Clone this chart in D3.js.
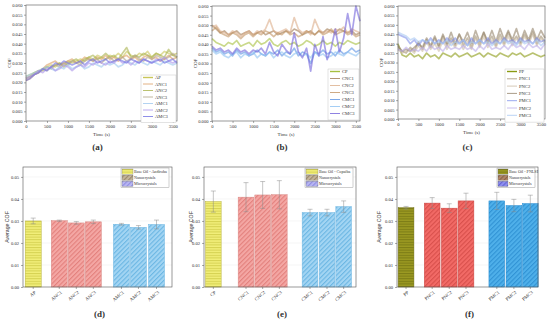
<!DOCTYPE html>
<html>
<head>
<meta charset="utf-8">
<script src="https://cdn.jsdelivr.net/npm/d3@7"></script>
<style>
  body { margin: 0; background: #fff; }
  text { font-family: "Liberation Serif", "DejaVu Serif", serif; fill: #333; }
</style>
</head>
<body>
<script>
// ---- time series data (COF read every 100 s) ----
var timeS = d3.range(0, 3601, 100);

var aNames = ["AP", "ANC1", "ANC2", "ANC3", "AMC1", "AMC2", "AMC3"];
var aAP   = [0.023,0.024,0.025,0.026,0.027,0.028,0.029,0.028,0.030,0.029,0.031,0.030,0.031,0.032,0.031,0.033,0.032,0.034,0.033,0.032,0.034,0.033,0.035,0.033,0.036,0.034,0.033,0.035,0.034,0.036,0.033,0.035,0.034,0.036,0.035,0.034,0.035];
var aANC1 = [0.021,0.022,0.024,0.025,0.027,0.029,0.030,0.031,0.029,0.030,0.031,0.032,0.030,0.031,0.033,0.032,0.031,0.033,0.032,0.034,0.032,0.033,0.031,0.033,0.034,0.032,0.033,0.031,0.033,0.034,0.032,0.033,0.031,0.032,0.034,0.032,0.033];
var aANC2 = [0.022,0.023,0.025,0.026,0.026,0.028,0.027,0.029,0.030,0.028,0.030,0.031,0.032,0.030,0.032,0.033,0.034,0.032,0.033,0.035,0.033,0.034,0.032,0.035,0.038,0.033,0.034,0.033,0.035,0.034,0.033,0.035,0.034,0.033,0.037,0.034,0.033];
var aANC3 = [0.022,0.023,0.024,0.025,0.027,0.026,0.028,0.029,0.028,0.030,0.029,0.031,0.030,0.029,0.031,0.032,0.031,0.032,0.030,0.032,0.033,0.031,0.032,0.033,0.031,0.032,0.034,0.032,0.031,0.033,0.032,0.034,0.033,0.032,0.033,0.035,0.033];
var aAMC1 = [0.023,0.024,0.025,0.026,0.027,0.028,0.027,0.026,0.028,0.027,0.029,0.027,0.028,0.029,0.027,0.028,0.030,0.029,0.028,0.030,0.029,0.030,0.028,0.029,0.031,0.030,0.029,0.031,0.030,0.029,0.031,0.030,0.029,0.031,0.030,0.029,0.030];
var aAMC2 = [0.022,0.023,0.024,0.026,0.025,0.027,0.028,0.026,0.027,0.029,0.028,0.026,0.028,0.029,0.028,0.030,0.029,0.031,0.030,0.029,0.031,0.030,0.032,0.030,0.031,0.029,0.031,0.030,0.032,0.031,0.030,0.032,0.031,0.033,0.031,0.030,0.031];
var aAMC3 = [0.021,0.022,0.024,0.025,0.027,0.026,0.028,0.030,0.029,0.031,0.030,0.029,0.030,0.031,0.029,0.031,0.032,0.030,0.031,0.032,0.030,0.031,0.032,0.031,0.030,0.032,0.031,0.030,0.032,0.031,0.030,0.031,0.032,0.030,0.031,0.032,0.030];

var bNames = ["CP", "CNC1", "CNC2", "CNC3", "CMC1", "CMC2", "CMC3"];
var bCP   = [0.043,0.041,0.040,0.039,0.041,0.040,0.042,0.039,0.040,0.041,0.039,0.042,0.040,0.041,0.043,0.040,0.039,0.041,0.042,0.040,0.041,0.039,0.040,0.042,0.041,0.039,0.040,0.042,0.040,0.041,0.039,0.041,0.040,0.042,0.041,0.040,0.041];
var bCNC1 = [0.050,0.048,0.046,0.047,0.045,0.046,0.047,0.045,0.046,0.047,0.045,0.046,0.047,0.045,0.046,0.047,0.045,0.046,0.047,0.046,0.048,0.047,0.045,0.046,0.047,0.045,0.047,0.046,0.048,0.047,0.046,0.048,0.047,0.046,0.047,0.045,0.046];
var bCNC2 = [0.049,0.050,0.047,0.046,0.045,0.047,0.046,0.044,0.046,0.047,0.045,0.047,0.046,0.048,0.053,0.047,0.046,0.047,0.048,0.046,0.054,0.048,0.046,0.047,0.045,0.053,0.048,0.046,0.047,0.046,0.048,0.047,0.049,0.046,0.048,0.047,0.046];
var bCNC3 = [0.047,0.049,0.046,0.045,0.044,0.046,0.045,0.043,0.045,0.046,0.044,0.046,0.045,0.047,0.046,0.044,0.046,0.045,0.047,0.045,0.046,0.044,0.045,0.047,0.046,0.045,0.047,0.045,0.046,0.048,0.045,0.046,0.047,0.045,0.046,0.044,0.045];
var bCMC1 = [0.038,0.036,0.037,0.035,0.036,0.034,0.037,0.035,0.036,0.034,0.035,0.037,0.035,0.034,0.036,0.035,0.037,0.034,0.036,0.035,0.038,0.034,0.036,0.035,0.030,0.036,0.035,0.037,0.035,0.036,0.034,0.037,0.035,0.036,0.038,0.036,0.037];
var bCMC2 = [0.037,0.035,0.036,0.034,0.033,0.035,0.036,0.033,0.035,0.034,0.036,0.033,0.035,0.034,0.036,0.033,0.035,0.036,0.034,0.033,0.035,0.036,0.034,0.035,0.033,0.036,0.034,0.035,0.033,0.034,0.036,0.035,0.034,0.036,0.035,0.034,0.036];
var bCMC3 = [0.039,0.037,0.038,0.036,0.037,0.035,0.038,0.036,0.037,0.035,0.037,0.036,0.038,0.035,0.041,0.036,0.034,0.040,0.037,0.035,0.046,0.036,0.033,0.038,0.026,0.040,0.034,0.044,0.032,0.038,0.048,0.036,0.043,0.056,0.045,0.060,0.052];

var cNames = ["PP", "PNC1", "PNC2", "PNC3", "PMC1", "PMC2", "PMC3"];
var cPP   = [0.040,0.034,0.033,0.035,0.033,0.034,0.032,0.035,0.033,0.034,0.032,0.035,0.034,0.033,0.035,0.033,0.034,0.035,0.033,0.034,0.035,0.033,0.035,0.034,0.033,0.035,0.034,0.033,0.035,0.034,0.035,0.033,0.034,0.035,0.034,0.033,0.034];
var cPNC1 = [0.038,0.036,0.035,0.038,0.036,0.041,0.037,0.042,0.038,0.043,0.038,0.044,0.039,0.043,0.039,0.045,0.039,0.043,0.038,0.044,0.039,0.046,0.040,0.044,0.039,0.045,0.040,0.046,0.041,0.044,0.040,0.045,0.041,0.046,0.040,0.044,0.041];
var cPNC2 = [0.037,0.035,0.036,0.037,0.035,0.039,0.036,0.041,0.037,0.040,0.036,0.042,0.037,0.041,0.038,0.042,0.037,0.041,0.037,0.043,0.038,0.044,0.038,0.042,0.038,0.043,0.039,0.044,0.039,0.043,0.039,0.044,0.040,0.045,0.039,0.043,0.040];
var cPNC3 = [0.039,0.036,0.037,0.036,0.038,0.040,0.038,0.043,0.039,0.044,0.039,0.045,0.040,0.046,0.040,0.045,0.041,0.046,0.040,0.047,0.041,0.046,0.041,0.047,0.041,0.048,0.042,0.047,0.042,0.048,0.041,0.047,0.042,0.048,0.042,0.047,0.043];
var cPMC1 = [0.045,0.044,0.043,0.040,0.042,0.039,0.042,0.040,0.043,0.040,0.042,0.040,0.043,0.041,0.043,0.040,0.042,0.039,0.043,0.040,0.042,0.040,0.043,0.040,0.042,0.040,0.043,0.041,0.042,0.040,0.043,0.041,0.042,0.040,0.043,0.041,0.042];
var cPMC2 = [0.037,0.036,0.038,0.036,0.037,0.036,0.038,0.036,0.039,0.037,0.038,0.036,0.039,0.037,0.038,0.037,0.039,0.037,0.038,0.036,0.039,0.037,0.040,0.037,0.038,0.037,0.039,0.037,0.040,0.038,0.039,0.037,0.040,0.038,0.039,0.037,0.040];
var cPMC3 = [0.046,0.045,0.044,0.042,0.043,0.041,0.042,0.041,0.042,0.040,0.041,0.040,0.042,0.039,0.041,0.040,0.042,0.039,0.041,0.040,0.042,0.040,0.041,0.039,0.041,0.040,0.042,0.040,0.041,0.039,0.042,0.040,0.041,0.040,0.042,0.039,0.041];

// ---- average COF bars ----
var dNames = ["AP", "ANC1", "ANC2", "ANC3", "AMC1", "AMC2", "AMC3"];
var dMeans = [0.0300, 0.0301, 0.0291, 0.0296, 0.0285, 0.0271, 0.0284];
var dErrs  = [0.0013, 0.0003, 0.0006, 0.0008, 0.0004, 0.0008, 0.0020];
var eNames = ["CP", "CNC1", "CNC2", "CNC3", "CMC1", "CMC2", "CMC3"];
var eMeans = [0.0388, 0.0408, 0.0418, 0.0419, 0.0338, 0.0338, 0.0365];
var eErrs  = [0.0048, 0.0066, 0.0061, 0.0064, 0.0015, 0.0015, 0.0026];
var fNames = ["PP", "PNC1", "PNC2", "PNC3", "PMC1", "PMC2", "PMC3"];
var fMeans = [0.0360, 0.0381, 0.0358, 0.0391, 0.0391, 0.0370, 0.0379];
var fErrs  = [0.0006, 0.0025, 0.0020, 0.0035, 0.0039, 0.0028, 0.0038];

var legendGroups = ["Nanocrystals", "Microcrystals"];

var svg = d3.select("body").append("svg")
    .attr("width", 550)
    .attr("height", 321);
var defs = svg.append("defs");

// hatch patterns
function pattern(id, bg, fg, kind) {
    var p = defs.append("pattern")
        .attr("id", id)
        .attr("patternUnits", "userSpaceOnUse")
        .attr("width", kind == "h" ? 4 : 3.2)
        .attr("height", kind == "h" ? 2.6 : 3.2);
    if (kind == "d") p.attr("patternTransform", "rotate(45)");
    p.append("rect").attr("width", 4).attr("height", 4).attr("fill", bg);
    if (kind == "h") {
        p.append("line").attr("x1", 0).attr("x2", 4).attr("y1", 0.6).attr("y2", 0.6)
            .attr("stroke", fg).attr("stroke-width", 0.8);
    } else {
        p.append("line").attr("x1", 0.6).attr("x2", 0.6).attr("y1", 0).attr("y2", 4)
            .attr("stroke", fg).attr("stroke-width", 0.9);
    }
}
pattern("baseY", "#f2ef7a", "#c9c540", "h");
pattern("baseO", "#9c9a22", "#6f6d10", "h");
pattern("nanoL", "#f4a7a4", "#e07874", "d");
pattern("microL", "#a3d5f3", "#5fb0e0", "d");
pattern("nanoS", "#f26a66", "#d24a46", "d");
pattern("microS", "#4fb0ea", "#2a8cd0", "d");
pattern("legNano", "#c4b49a", "#8f7d62", "d");
pattern("legMicro", "#b8b6f2", "#8784de", "d");
pattern("legNanoS", "#b08468", "#7d5a40", "d");
pattern("legMicroS", "#8e8ef0", "#5c5ccc", "d");

function caption(x, y, t) {
    svg.append("text").attr("x", x).attr("y", y).attr("text-anchor", "middle")
        .attr("font-size", 9).attr("font-weight", "bold").attr("fill", "#111").text(t);
}

/*          Line panels          */
function linePanel(cfg) {
    var x = d3.scaleLinear().domain([0, 3600]).range([cfg.left, cfg.right]);
    var y = d3.scaleLinear().domain([0, 0.06]).range([cfg.bottom, cfg.top]);
    var g = svg.append("g");

    var line = d3.line()
        .x(function (d, i) { return x(timeS[i]); })
        .y(function (d) { return y(d); });
    cfg.series.forEach(function (s, i) {
        g.append("path").datum(s)
            .attr("d", line)
            .attr("fill", "none")
            .attr("stroke", cfg.colors[i])
            .attr("stroke-width", 1.7)
            .attr("stroke-linejoin", "round")
            .attr("stroke-opacity", 0.6);
    });

    var xAxis = d3.axisBottom(x).tickValues(d3.range(0, 3501, 500)).tickFormat(d3.format("d")).tickSize(2).tickPadding(1.5);
    var yAxis = d3.axisLeft(y).tickValues(d3.range(0, 13).map(function (i) { return i * 0.005; }))
        .tickFormat(d3.format(".3f")).tickSize(2).tickPadding(1.5);
    var gx = g.append("g").attr("transform", "translate(0," + cfg.bottom + ")").call(xAxis);
    var gy = g.append("g").attr("transform", "translate(" + cfg.left + ",0)").call(yAxis);
    [gx, gy].forEach(function (a) {
        a.select(".domain").remove();
        a.selectAll("line").attr("stroke", "#555").attr("stroke-width", 0.5);
        a.selectAll("text").attr("font-size", 4.6).attr("font-family", "Liberation Serif").attr("fill", "#444");
    });
    g.append("rect").attr("x", cfg.left).attr("y", cfg.top)
        .attr("width", cfg.right - cfg.left).attr("height", cfg.bottom - cfg.top)
        .attr("fill", "none").attr("stroke", "#555").attr("stroke-width", 0.6);

    g.append("text").attr("transform", "translate(" + (cfg.left - 15) + "," + ((cfg.top + cfg.bottom) / 2) + ")rotate(-90)")
        .attr("text-anchor", "middle").attr("font-size", 5).text("COF");
    g.append("text").attr("x", (cfg.left + cfg.right) / 2).attr("y", cfg.bottom + 15)
        .attr("text-anchor", "middle").attr("font-size", 5).text("Time (s)");

    // legend
    var lg = g.append("g");
    var n = cfg.names.length;
    lg.append("rect").attr("x", cfg.legX).attr("y", cfg.legY - 4)
        .attr("width", cfg.right - cfg.legX - 1).attr("height", cfg.legStep * n + 2)
        .attr("fill", "#fff").attr("stroke", "#bbb").attr("stroke-width", 0.4);
    cfg.names.forEach(function (nm, i) {
        var yy = cfg.legY + i * cfg.legStep;
        lg.append("line").attr("x1", cfg.legX + 2).attr("x2", cfg.legX + 12)
            .attr("y1", yy - 1.5).attr("y2", yy - 1.5)
            .attr("stroke", cfg.colors[i]).attr("stroke-width", i == 0 ? 1.4 : 0.8);
        lg.append("text").attr("x", cfg.legX + 14).attr("y", yy)
            .attr("font-size", 4.6).text(nm);
    });
    caption((cfg.left + cfg.right) / 2 - 4, 150, cfg.caption);
}

linePanel({
    left: 26, right: 177, top: 5, bottom: 121, caption: "(a)",
    names: aNames, series: [aAP, aANC1, aANC2, aANC3, aAMC1, aAMC2, aAMC3],
    colors: ["#c9c65a", "#dca066", "#a9b24c", "#b0a488", "#9fc8ee", "#ab94ea", "#7272e2"],
    legX: 141, legY: 79, legStep: 6.5
});
linePanel({
    left: 212, right: 360, top: 6, bottom: 121, caption: "(b)",
    names: bNames, series: [bCP, bCNC1, bCNC2, bCNC3, bCMC1, bCMC2, bCMC3],
    colors: ["#a6c040", "#a07a52", "#dcae8a", "#c29464", "#5c92e2", "#8ec2f2", "#7262da"],
    legX: 328, legY: 73, legStep: 7
});
linePanel({
    left: 398, right: 545, top: 6, bottom: 119, caption: "(c)",
    names: cNames, series: [cPP, cPNC1, cPNC2, cPNC3, cPMC1, cPMC2, cPMC3],
    colors: ["#8a9a12", "#a49274", "#cbbca6", "#94846a", "#8090ea", "#bcaeea", "#a8c8f2"],
    legX: 505, legY: 73, legStep: 7.3
});

/*          Bar panels          */
function barPanel(cfg) {
    var x = d3.scaleLinear().domain(cfg.xDomain).range([cfg.left, cfg.right]);
    var y = d3.scaleLinear().domain([0, 0.0545]).range([287, 167]);
    var unit = x(1) - x(0);
    var bw = unit * 0.94;
    var g = svg.append("g");

    // faint grid
    g.selectAll(".grid").data(d3.range(1, 6).map(function (i) { return i * 0.01; }))
        .enter().append("line")
        .attr("x1", cfg.left).attr("x2", cfg.right)
        .attr("y1", function (d) { return y(d); }).attr("y2", function (d) { return y(d); })
        .attr("stroke", "#ececec").attr("stroke-width", 0.5);

    var fills = cfg.fills;
    g.selectAll(".bar").data(cfg.means).enter().append("rect")
        .attr("x", function (d, i) { return x(cfg.slots[i]) - bw / 2; })
        .attr("y", function (d) { return y(d); })
        .attr("width", bw)
        .attr("height", function (d) { return y(0) - y(d); })
        .attr("fill", function (d, i) { return "url(#" + fills[i == 0 ? 0 : (i < 4 ? 1 : 2)] + ")"; })
        .attr("stroke", function (d, i) { return cfg.edges[i == 0 ? 0 : (i < 4 ? 1 : 2)]; })
        .attr("stroke-width", 0.5);

    // error bars
    cfg.means.forEach(function (m, i) {
        var cx = x(cfg.slots[i]), e = cfg.errs[i];
        g.append("line").attr("x1", cx).attr("x2", cx).attr("y1", y(m - e)).attr("y2", y(m + e))
            .attr("stroke", "#8a8a8a").attr("stroke-width", 0.5);
        [m - e, m + e].forEach(function (v) {
            g.append("line").attr("x1", cx - 2.5).attr("x2", cx + 2.5).attr("y1", y(v)).attr("y2", y(v))
                .attr("stroke", "#8a8a8a").attr("stroke-width", 0.5);
        });
    });

    var yAxis = d3.axisLeft(y).tickValues(d3.range(0, 6).map(function (i) { return i * 0.01; }))
        .tickFormat(d3.format(".2f")).tickSize(2).tickPadding(2);
    var gy = g.append("g").attr("transform", "translate(" + cfg.left + ",0)").call(yAxis);
    gy.select(".domain").remove();
    gy.selectAll("line").attr("stroke", "#555").attr("stroke-width", 0.5);
    gy.selectAll("text").attr("font-size", 4.6).attr("fill", "#444");

    g.append("rect").attr("x", cfg.left).attr("y", 167)
        .attr("width", cfg.right - cfg.left).attr("height", 120)
        .attr("fill", "none").attr("stroke", "#555").attr("stroke-width", 0.6);

    // category labels
    cfg.names.forEach(function (nm, i) {
        var cx = x(cfg.slots[i]);
        g.append("line").attr("x1", cx).attr("x2", cx).attr("y1", 287).attr("y2", 289)
            .attr("stroke", "#555").attr("stroke-width", 0.5);
        g.append("text").attr("transform", "translate(" + (cx + 3) + ",293)rotate(-40)")
            .attr("text-anchor", "end").attr("font-size", 4.8).attr("fill", "#444").text(nm);
    });

    g.append("text").attr("transform", "translate(" + cfg.yLabelX + ",227)rotate(-90)")
        .attr("text-anchor", "middle").attr("font-size", 5.2)
        .style("font-family", "Liberation Sans, Arial, sans-serif").text("Average COF");

    // legend
    var labels = [cfg.baseLabel].concat(legendGroups);
    var lx = cfg.legX, lw = cfg.right - cfg.legX - 3;
    g.append("rect").attr("x", lx).attr("y", 168).attr("width", lw).attr("height", 19.5)
        .attr("fill", "#fff").attr("stroke", "#888").attr("stroke-width", 0.4);
    labels.forEach(function (t, i) {
        var yy = 169 + i * 6.1;
        g.append("rect").attr("x", lx + 1).attr("y", yy).attr("width", cfg.swW).attr("height", 5.2)
            .attr("fill", "url(#" + cfg.legFills[i] + ")").attr("stroke", "#666").attr("stroke-width", 0.3);
        g.append("text").attr("x", lx + cfg.swW + 2).attr("y", yy + 4)
            .attr("font-size", 4.1).text(t);
    });

    caption((cfg.left + cfg.right) / 2 + 2, 317, cfg.caption);
}

barPanel({
    left: 23, right: 172, caption: "(d)", yLabelX: 9,
    names: dNames, means: dMeans, errs: dErrs,
    slots: [0, 1.53, 2.53, 3.53, 5.18, 6.18, 7.24], xDomain: [-0.6, 8.15],
    fills: ["baseY", "nanoL", "microL"], edges: ["#b9b540", "#d88884", "#6fb6e2"],
    baseLabel: "Base Oil - Andiroba", legFills: ["baseY", "legNano", "legMicro"],
    legX: 121, swW: 11
});
barPanel({
    left: 204, right: 356, caption: "(e)", yLabelX: 193,
    names: eNames, means: eMeans, errs: eErrs,
    slots: [0, 1.96, 2.96, 3.96, 5.8, 6.82, 7.82], xDomain: [-0.56, 8.56],
    fills: ["baseY", "nanoL", "microL"], edges: ["#b9b540", "#d88884", "#6fb6e2"],
    baseLabel: "Base Oil - Copaiba", legFills: ["baseY", "legNano", "legMicro"],
    legX: 305, swW: 12
});
barPanel({
    left: 397, right: 538, caption: "(f)", yLabelX: 381,
    names: fNames, means: fMeans, errs: fErrs,
    slots: [0, 1.56, 2.58, 3.58, 5.42, 6.44, 7.42], xDomain: [-0.54, 7.88],
    fills: ["baseO", "nanoS", "microS"], edges: ["#6f6d10", "#c84440", "#2a8cd0"],
    baseLabel: "Base Oil - PNLSI", legFills: ["baseO", "legNanoS", "legMicroS"],
    legX: 497, swW: 10
});
</script>
</body>
</html>
